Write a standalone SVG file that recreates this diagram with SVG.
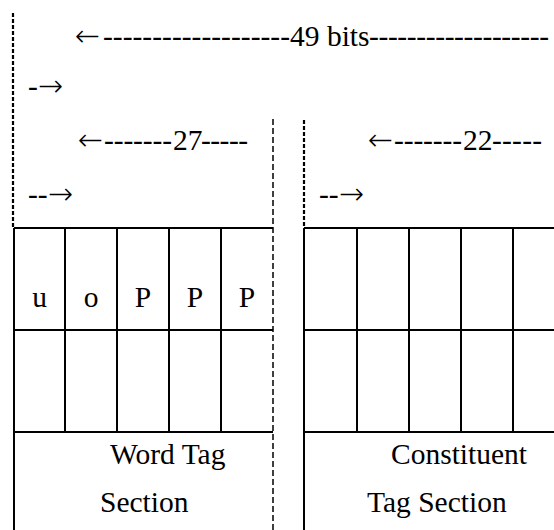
<svg xmlns="http://www.w3.org/2000/svg" width="554" height="530" viewBox="0 0 554 530">
<style>
.t{font-family:"Times New Roman","Liberation Serif",Tinos,"DejaVu Serif",serif;font-size:29.5px;fill:#000}
.a{font-family:"DejaVu Sans",sans-serif;font-weight:200;font-size:30px}
.c{text-anchor:middle}
.s{stroke:#000;stroke-width:2;fill:none}
.d1{stroke:#000;stroke-width:2.2;stroke-dasharray:4 2;fill:none}
.d2{stroke:#000;stroke-width:1.5;stroke-dasharray:6 3;fill:none}
</style>
<rect width="554" height="530" fill="#fff"/>
<g id="labels" class="t">
<text x="75" y="46"><tspan class="a">←</tspan><tspan x="103" textLength="187" lengthAdjust="spacing">-------------------</tspan><tspan x="290">49 bits</tspan><tspan x="369" textLength="180" lengthAdjust="spacing">-------------------</tspan></text>
<text x="28" y="96">-<tspan class="a">→</tspan></text>
<text x="78" y="150"><tspan class="a">←</tspan><tspan x="104" textLength="68" lengthAdjust="spacing">-------</tspan><tspan x="173">27</tspan><tspan x="201" textLength="47" lengthAdjust="spacing">-----</tspan></text>
<text x="28" y="204">--<tspan class="a">→</tspan></text>
<text x="368" y="150"><tspan class="a">←</tspan><tspan x="394" textLength="68" lengthAdjust="spacing">-------</tspan><tspan x="463">22</tspan><tspan x="492" textLength="50" lengthAdjust="spacing">-----</tspan></text>
<text x="319" y="204">--<tspan class="a">→</tspan></text>
</g>
<g id="connectors">
<line class="d1" x1="13" y1="13" x2="13" y2="228"/>
<line class="d2" x1="273" y1="119" x2="273" y2="530"/>
<line class="d1" x1="304" y1="120" x2="304" y2="228"/>
</g>
<g id="word-tag-section" class="t">
<path class="s" d="M14 228V530M14 228H273M14 330H273M14 432H273M65 228V432M117 228V432M169 228V432M221 228V432"/>
<text class="c" x="39.5" y="307">u</text>
<text class="c" x="91" y="307">o</text>
<text class="c" x="143" y="307">P</text>
<text class="c" x="195" y="307">P</text>
<text class="c" x="247" y="307">P</text>
<text x="110" y="464">Word Tag</text>
<text x="100" y="512">Section</text>
</g>
<g id="constituent-tag-section" class="t">
<path class="s" d="M304 228V530M304 228H554M304 330H554M304 432H554M357 228V432M409 228V432M461 228V432M513 228V432"/>
<text x="391" y="464">Constituent</text>
<text x="367" y="512">Tag Section</text>
</g>
</svg>
